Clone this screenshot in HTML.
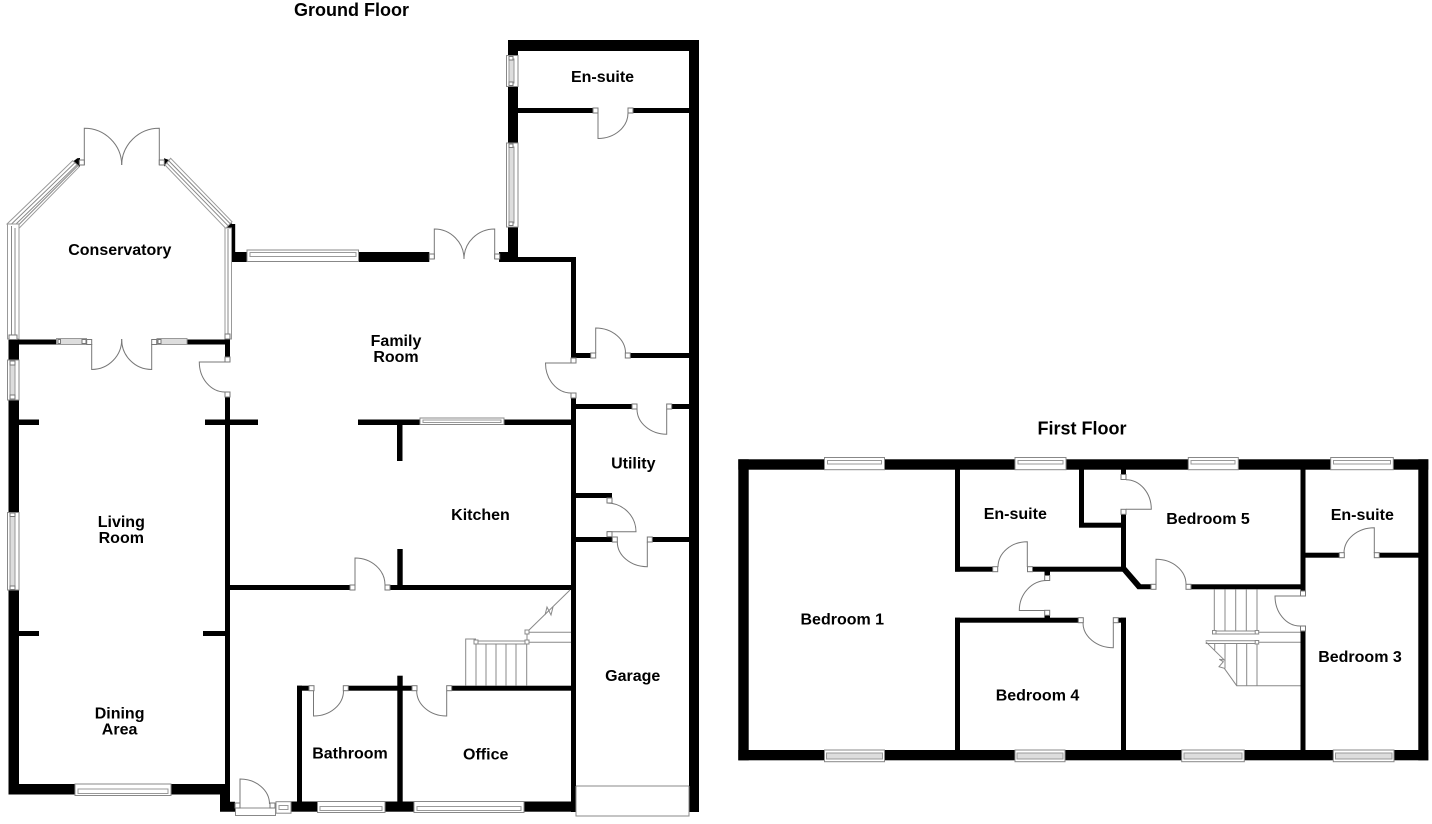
<!DOCTYPE html>
<html>
<head>
<meta charset="utf-8">
<style>
html,body{margin:0;padding:0;background:#fff;width:1432px;height:824px;overflow:hidden}
svg{display:block}
text{font-family:"Liberation Sans",sans-serif;font-weight:bold;font-size:16px;text-anchor:middle;fill:#000}
.t{font-size:18px}
.d{fill:none;stroke:#777;stroke-width:1}
.p{fill:#fff;stroke:#777;stroke-width:1}
.w{fill:#fff;stroke:#888;stroke-width:1}
.g{fill:#ddd;stroke:#999;stroke-width:1}
.i{fill:#fff;stroke:#999;stroke-width:1}
.n{fill:none;stroke:#888;stroke-width:1}
</style>
</head>
<body>
<svg width="1432" height="824" viewBox="0 0 1432 824" xmlns="http://www.w3.org/2000/svg">
<!-- GROUND FLOOR WALLS -->
<g fill="#000">
<rect x="508" y="40" width="191" height="11"/>
<rect x="689" y="40" width="10" height="772"/>
<rect x="508" y="40" width="10" height="222"/>
<rect x="518" y="108" width="76" height="5"/>
<rect x="633" y="108" width="56" height="5"/>
<rect x="499" y="252" width="19" height="10"/>
<rect x="518" y="257" width="58" height="5"/>
<rect x="571" y="257" width="5" height="101"/>
<rect x="576" y="353" width="15" height="5"/>
<rect x="630" y="353" width="59" height="5"/>
<rect x="571" y="398" width="5" height="414"/>
<rect x="576" y="404" width="56" height="5"/>
<rect x="672" y="404" width="17" height="5"/>
<rect x="576" y="493" width="36" height="5"/>
<rect x="576" y="537" width="36" height="5"/>
<rect x="652" y="537" width="37" height="5"/>
<rect x="358" y="419.5" width="62" height="5.5"/>
<rect x="504" y="419.5" width="67" height="5.5"/>
<rect x="397" y="425" width="5.5" height="36"/>
<rect x="205" y="419.5" width="53" height="5.5"/>
<rect x="19" y="419.5" width="20" height="5.5"/>
<rect x="19" y="631" width="20" height="5"/>
<rect x="203" y="631" width="22" height="5"/>
<rect x="8.5" y="339.5" width="10.5" height="20.5"/>
<rect x="8.5" y="400" width="10.5" height="112"/>
<rect x="8.5" y="590" width="10.5" height="204"/>
<rect x="19" y="339.5" width="37" height="5"/>
<rect x="187" y="339.5" width="43" height="5"/>
<rect x="225" y="339.5" width="5" height="17.5"/>
<rect x="225" y="397" width="5" height="397"/>
<rect x="8.5" y="784" width="66.5" height="10.5"/>
<rect x="171" y="784" width="54" height="10.5"/>
<polygon points="220,790 230,790 230,801.7 235,801.7 235,811.7 220,811.7"/>
<rect x="291" y="801.5" width="26.5" height="10.2"/>
<rect x="385" y="801.5" width="29" height="10.2"/>
<rect x="524" y="801.5" width="52" height="10.2"/>
<rect x="230" y="585" width="120" height="5"/>
<rect x="390" y="585" width="181" height="5"/>
<rect x="397.3" y="549" width="5.4" height="36"/>
<rect x="297" y="685.7" width="5" height="116"/>
<rect x="297" y="685.7" width="12" height="5"/>
<rect x="348" y="685.7" width="64" height="5"/>
<rect x="452" y="685.7" width="119" height="5"/>
<rect x="397.3" y="675.7" width="5.4" height="126"/>
<rect x="232" y="252" width="15" height="10"/>
<rect x="231.7" y="224" width="3.5" height="30"/>
<rect x="358.7" y="252" width="70.6" height="10"/>
<polygon points="225,228 231,223 235,226 235,235 231.7,235 231.7,228"/>
<polygon points="72.7,161.7 77.3,158.3 80,158 80,167"/>
<polygon points="164,158.3 170.7,160.5 164,166.5"/>
</g>
<!-- GROUND FLOOR WINDOWS -->
<g>
<polygon class="i" points="7,224 72.7,160.7 79.3,166.7 19,228.3"/>
<path class="n" d="M10,225.5 L75,162.7 M13,227 L77,164.7 M16,227.5 L78,165.5"/>
<polygon class="i" points="170.7,158.3 232,221.7 225.7,228.3 165,165"/>
<path class="n" d="M168.5,160.5 L230,223.5 M166.5,162.7 L228,225.7"/>
<rect class="i" x="7.5" y="224" width="11.5" height="115"/>
<path class="n" d="M11.5,226 V339 M15,228 V339"/>
<rect class="i" x="225" y="228" width="6.5" height="111"/>
<path class="n" d="M228,229 V339"/>
<rect class="p" x="225" y="334" width="5" height="5"/>
<rect class="p" x="9" y="335" width="8" height="4.5"/>

<rect class="w" x="7.5" y="360" width="11.5" height="40"/>
<rect class="g" x="10" y="364" width="5" height="32"/>
<rect class="p" x="10" y="361" width="5" height="4"/><rect class="p" x="10" y="395" width="5" height="4"/>
<rect class="w" x="7.5" y="512.5" width="11.5" height="77.5"/>
<rect class="g" x="10" y="516" width="5" height="70"/>
<rect class="p" x="10" y="513" width="5" height="3.5"/><rect class="p" x="10" y="586" width="5" height="3.5"/>

<rect class="w" x="75" y="784" width="96" height="11.5"/>
<rect class="i" x="78" y="789" width="90" height="4.5"/>
<rect class="g" x="56.5" y="338.5" width="30" height="6"/>
<rect class="p" x="58" y="339.5" width="2.5" height="4"/><rect class="p" x="82" y="339.5" width="4" height="4"/>
<rect class="g" x="157" y="338.5" width="30" height="6"/>
<rect class="p" x="158" y="339.5" width="3" height="4"/>

<rect class="w" x="506.5" y="55.5" width="11.5" height="31"/>
<rect class="g" x="509" y="59" width="5" height="24"/>
<rect class="p" x="509" y="56.5" width="4" height="3.5"/><rect class="p" x="509" y="82" width="4" height="3.5"/>
<rect class="w" x="506.5" y="143" width="11.5" height="84"/>
<rect class="g" x="509" y="147" width="5" height="76"/>
<rect class="p" x="509" y="144" width="4" height="3.5"/><rect class="p" x="509" y="222" width="4" height="3.5"/>

<rect class="w" x="247" y="250" width="111.5" height="11.5"/>
<rect class="i" x="250" y="252.5" width="106" height="4"/>
<rect class="w" x="420" y="418" width="84" height="6.5"/>
<rect class="i" x="423" y="420" width="78" height="2.5"/>
<rect class="w" x="317.5" y="801.5" width="67.5" height="11"/>
<rect class="i" x="320" y="806.5" width="62" height="4"/>
<rect class="w" x="414" y="801.5" width="110" height="11"/>
<rect class="i" x="417" y="806.5" width="104" height="4"/>
<rect class="w" x="276" y="801.7" width="15" height="11.5"/>
<rect class="i" x="279" y="805.5" width="9" height="4"/>
</g>
<!-- GROUND FLOOR DOORS -->
<g class="d">
<path d="M598 113V138.5A30 25.5 0 0 0 628 113"/>
<path d="M595.7 353V328A30 25 0 0 1 625.5 353"/>
<path d="M571 363H545.5A25.5 30 0 0 0 571 393"/>
<path d="M666.7 409V434.3A30 25.3 0 0 1 637 409"/>
<path d="M607 531.7H636A29 29 0 0 0 607 503"/>
<path d="M647.3 541.7V566.7A30 25 0 0 1 617.3 541.7"/>
<path d="M225 362H199.3A25.7 30 0 0 0 225 392"/>
<path d="M91.7 344V369.5A30 30 0 0 0 121.7 339"/>
<path d="M151.7 344V369.5A30 30 0 0 1 121.7 339"/>
<path d="M84.3 165V128.3A37.4 37 0 0 1 121.7 165"/>
<path d="M159.3 165V128.3A37.6 37 0 0 0 121.7 165"/>
<path d="M434.3 259V229A29.7 30 0 0 1 464 259"/>
<path d="M494.7 259V229A30.7 30 0 0 0 464 259"/>
<path d="M355 585V558A30 27 0 0 1 385 585"/>
<path d="M313.5 690.7V716A30 25.3 0 0 0 343.5 690.7"/>
<path d="M446.7 690.7V716A30 25.3 0 0 1 416.7 690.7"/>
<path d="M240 804V779A29.5 25 0 0 1 269.5 804"/>
</g>
<rect class="w" x="235.5" y="808" width="40" height="7.5"/>
<g class="p">
<rect x="593" y="108" width="5" height="5"/><rect x="628" y="108" width="5" height="5"/>
<rect x="590.7" y="353" width="5" height="5"/><rect x="625.3" y="353" width="5" height="5"/>
<rect x="571" y="358" width="5" height="5"/><rect x="571" y="393" width="5" height="5"/>
<rect x="632" y="404" width="5" height="5"/><rect x="666.7" y="404" width="5" height="5"/>
<rect x="607" y="498" width="5" height="5"/><rect x="607" y="531.7" width="5" height="5"/>
<rect x="612.3" y="537" width="5" height="5"/><rect x="647.3" y="537" width="5" height="5"/>
<rect x="225" y="357" width="5" height="5"/><rect x="225" y="392" width="5" height="5"/>
<rect x="86.7" y="339.5" width="5" height="5"/><rect x="151.7" y="339.5" width="5" height="5"/>
<rect x="79.3" y="160" width="5" height="5"/><rect x="159.3" y="160" width="5" height="5"/>
<rect x="429.3" y="254" width="5" height="5"/><rect x="494.7" y="254" width="5" height="5"/>
<rect x="350" y="585" width="5" height="5"/><rect x="385" y="585" width="5" height="5"/>
<rect x="309" y="685.7" width="5" height="5"/><rect x="343.3" y="685.7" width="5" height="5"/>
<rect x="412" y="685.7" width="5" height="5"/><rect x="446.7" y="685.7" width="5" height="5"/>
<rect x="235" y="803" width="5" height="5"/><rect x="270" y="803" width="5" height="5"/>
</g>
<!-- Garage door -->
<path class="n" d="M576 786H689M576 786V816H689V786"/>
<!-- Ground stairs -->
<g class="n">
<path d="M465.7 685.7V639H476M476 641H527M476 644H527"/>
<path d="M476 644V685.7M486 644V685.7M496 644V685.7M506 644V685.7M516 644V685.7M526.7 644V685.7"/>
<path d="M527 632.3H571M527 642.3H571M527 632V642"/>
<path d="M527 632L570 590M545 615L547 607L551 615L553 607"/>
</g>
<rect class="w" x="525" y="630" width="4" height="4"/><rect class="w" x="525" y="640" width="4" height="4"/><rect class="w" x="474" y="640" width="4" height="4"/>

<!-- FIRST FLOOR WALLS -->
<g fill="#000">
<rect x="738.3" y="459.3" width="690" height="10.4"/>
<rect x="738.3" y="750" width="690" height="10.3"/>
<rect x="738.3" y="459.3" width="10.4" height="301"/>
<rect x="1418.3" y="459.3" width="10" height="301"/>
<rect x="955" y="469" width="5" height="102.7"/>
<rect x="955" y="566.7" width="38" height="5"/>
<rect x="1032.7" y="566.7" width="93.3" height="5"/>
<rect x="1079" y="469" width="5" height="58.5"/>
<rect x="1079" y="522.7" width="47" height="5"/>
<rect x="1121" y="469" width="5" height="5"/>
<rect x="1121" y="514" width="5" height="57"/>
<polygon points="1121,570 1126,567 1141,584.3 1153,584.3 1153,589.3 1137.5,589.3"/>
<rect x="1191" y="584.3" width="111" height="5"/>
<rect x="1044.5" y="571" width="5.5" height="4.5"/>
<rect x="1044.5" y="615" width="5.5" height="4"/>
<rect x="955" y="617.7" width="123.3" height="5"/>
<rect x="955" y="617.7" width="5" height="133"/>
<rect x="1118.3" y="617.7" width="7.7" height="5"/>
<rect x="1121" y="617.7" width="5" height="133"/>
<rect x="1300.5" y="469" width="5" height="122"/>
<rect x="1300.5" y="631" width="5" height="120"/>
<rect x="1305" y="552.7" width="34.3" height="5"/>
<rect x="1379" y="552.7" width="40" height="5"/>
</g>
<!-- FIRST FLOOR WINDOWS -->
<g>
<rect class="w" x="824.5" y="457.5" width="60" height="12.2"/><rect class="i" x="827.5" y="460.5" width="54" height="3.5"/>
<rect class="w" x="1015" y="457.5" width="51" height="12.2"/><rect class="i" x="1018" y="460.5" width="45" height="3.5"/>
<rect class="w" x="1188.3" y="457.5" width="50" height="12.2"/><rect class="i" x="1191" y="460.5" width="44" height="3.5"/>
<rect class="w" x="1330.7" y="457.5" width="62.6" height="12.2"/><rect class="i" x="1333.5" y="460.5" width="57" height="3.5"/>
<rect class="w" x="824.5" y="750" width="60" height="11.7"/><rect class="g" x="826.5" y="753" width="56" height="6"/>
<rect class="w" x="1015" y="750" width="50" height="11.7"/><rect class="g" x="1017" y="753" width="46" height="6"/>
<rect class="w" x="1181.7" y="750" width="62.6" height="11.7"/><rect class="g" x="1184" y="753" width="58" height="6"/>
<rect class="w" x="1333.3" y="750" width="60.7" height="11.7"/><rect class="g" x="1335.5" y="753" width="56.5" height="6"/>
</g>
<!-- FIRST FLOOR DOORS -->
<g class="d">
<path d="M1027.3 567V541.7A29.3 25.3 0 0 0 998 567"/>
<path d="M1126 509.3H1151.3A25.3 29.6 0 0 0 1126 479.7"/>
<path d="M1156 584.3V559.3A30 25 0 0 1 1186 584.3"/>
<path d="M1047 610.5H1019.3A27.7 30 0 0 1 1047 580.5"/>
<path d="M1113.3 622.7V647.7A30.3 25 0 0 1 1083 622.7"/>
<path d="M1300 596H1275A25 30 0 0 0 1300 626"/>
<path d="M1374.3 553V527.7A30.3 25.3 0 0 0 1344 553"/>
</g>
<g class="p">
<rect x="992.7" y="566.7" width="5" height="5"/><rect x="1027.5" y="566.7" width="5" height="5"/>
<rect x="1121" y="474.5" width="5" height="5"/><rect x="1121" y="509.3" width="5" height="5"/>
<rect x="1151" y="584.3" width="5" height="5"/><rect x="1186" y="584.3" width="5" height="5"/>
<rect x="1044.7" y="575.5" width="5" height="5"/><rect x="1044.7" y="610.3" width="5" height="5"/>
<rect x="1078.3" y="617.7" width="5" height="5"/><rect x="1113.3" y="617.7" width="5" height="5"/>
<rect x="1300.5" y="591" width="5" height="5"/><rect x="1300.5" y="626" width="5" height="5"/>
<rect x="1339.3" y="552.7" width="5" height="5"/><rect x="1374.3" y="552.7" width="5" height="5"/>
</g>
<!-- First floor stairs -->
<g class="n">
<path d="M1214.3 589.3V631M1225 589.3V631M1235.7 589.3V631M1246.3 589.3V631M1257 589.3V631"/>
<path d="M1214 631H1257M1214 634H1257M1257 632.3H1300.5M1257 642.3H1300.5"/>
<path d="M1205.7 640.7H1257M1205.7 643.5H1257"/>
<path d="M1205.7 641.7L1224.3 660L1219.3 659.3L1223.3 661.7L1219 666.7L1224.3 668.3L1236.7 685.7H1300.5"/>
<path d="M1214.7 643.5V650M1225 643.5V668.5M1236.7 643.5V685.7M1246.7 643.5V685.7M1257 643.5V685.7"/>
</g>
<rect class="w" x="1212.5" y="630.5" width="3.5" height="3.5"/><rect class="w" x="1255.2" y="630.5" width="3.5" height="3.5"/><rect class="w" x="1255.2" y="640.5" width="3.5" height="3.5"/>

<!-- LABELS -->
<text class="t" x="351.5" y="16">Ground Floor</text>
<text x="602.5" y="82">En-suite</text>
<text x="119.8" y="255">Conservatory</text>
<text x="396" y="346">Family</text>
<text x="396" y="362">Room</text>
<text x="121.3" y="527.2">Living</text>
<text x="121.3" y="543">Room</text>
<text x="119.6" y="718.5">Dining</text>
<text x="119.6" y="734.3">Area</text>
<text x="633.3" y="468.5">Utility</text>
<text x="480.5" y="520">Kitchen</text>
<text x="632.7" y="681">Garage</text>
<text x="350" y="758.5">Bathroom</text>
<text x="485.7" y="759.3">Office</text>
<text class="t" x="1082" y="434.5">First Floor</text>
<text x="842.3" y="624.5">Bedroom 1</text>
<text x="1015.3" y="519">En-suite</text>
<text x="1208" y="524">Bedroom 5</text>
<text x="1362.3" y="520">En-suite</text>
<text x="1360" y="662">Bedroom 3</text>
<text x="1037.5" y="700.5">Bedroom 4</text>
</svg>
</body>
</html>
